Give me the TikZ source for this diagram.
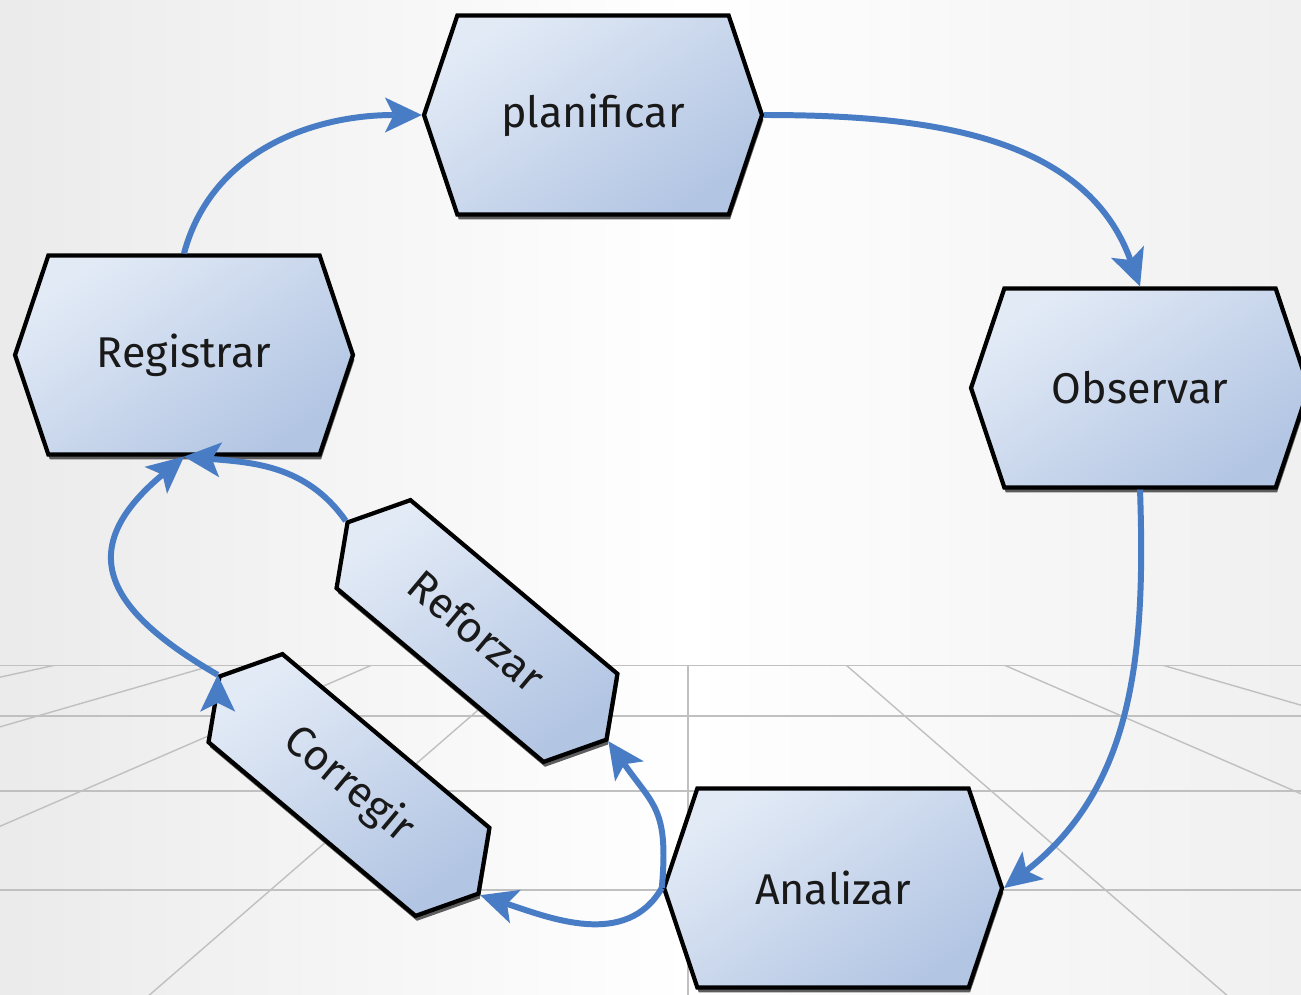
\documentclass[tikz,border=0pt]{standalone}
\usepackage{fontspec}
\setsansfont{Fira Sans}
\usepackage{tikz}
\usetikzlibrary{shapes.symbols,shadows,arrows.meta}

\definecolor{hexclaro}{RGB}{226,234,246}
\definecolor{hexoscuro}{RGB}{178,197,227}
\definecolor{flecha}{RGB}{72,124,196}
\definecolor{rejilla}{RGB}{192,192,192}

\begin{document}
\begin{tikzpicture}[x=0.02cm, y=0.02cm,
  hexa/.style={signal, signal to=east and west, draw=black, line width=2.4pt,
    top color=hexclaro, bottom color=hexoscuro, shading angle=35,
    drop shadow={shadow xshift=0.8pt, shadow yshift=-2.8pt, fill=black!70, opacity=0.9},
    font=\sffamily\fontsize{24.5}{28}\selectfont, text=black!90},
  grande/.style={hexa, minimum width=6.76cm, minimum height=3.98cm, signal pointer angle=143},
  girada/.style={hexa, minimum width=6.76cm, minimum height=2.3cm, signal pointer angle=119, rotate=-40},
  ciclo/.style={draw=flecha, line width=3.4pt,
    -{Stealth[length=21pt, width=20pt, inset=5pt, line width=0pt, fill=flecha]}}]

  \useasboundingbox (0,0) rectangle (1301,-994);
  % fondo
  \fill[left color=black!8, right color=white] (0,0) rectangle (690,-994);
  \fill[left color=white, right color=black!6] (690,0) rectangle (1301,-994);
  % suelo en perspectiva
  \begin{scope}[draw=rejilla, line width=0.8pt]
    \clip (0,-665) rectangle (1301,-994);
    \foreach \y in {665,716,791,890} \draw (0,-\y) -- (1301,-\y);
    \foreach \k in {-4,...,3} \draw (688+158*\k,-665) -- ++(3*158*\k,-3*137);
  \end{scope}

  \node[grande] (plan) at (593,-115) {planificar};
  \node[grande] (obs) at (1140,-388) {Observar};
  \node[grande] (ana) at (833,-888) {Analizar};
  \node[grande] (reg) at (184,-355) {Registrar};
  \node[girada] (ref) at (477,-631) {Reforzar};
  \node[girada] (cor) at (349,-785) {Corregir};

  \path[ciclo]
  (reg.north) edge[out=75, in=180] (plan.west)
  (plan.east) edge[out=0, in=110] (obs.north)
  (obs.south) edge[out=-88, in=38] (ana.east)
  (ana.west) edge[out=85, in=-55, looseness=1.3] (ref.east)
  (ana.west) edge[out=-120, in=-18] (cor.east)
  (ref.west) edge[out=125, in=-5] (reg.south)
  (cor.west) edge[out=150, in=-140, looseness=1.6] (reg.south);
\end{tikzpicture}
\end{document}
